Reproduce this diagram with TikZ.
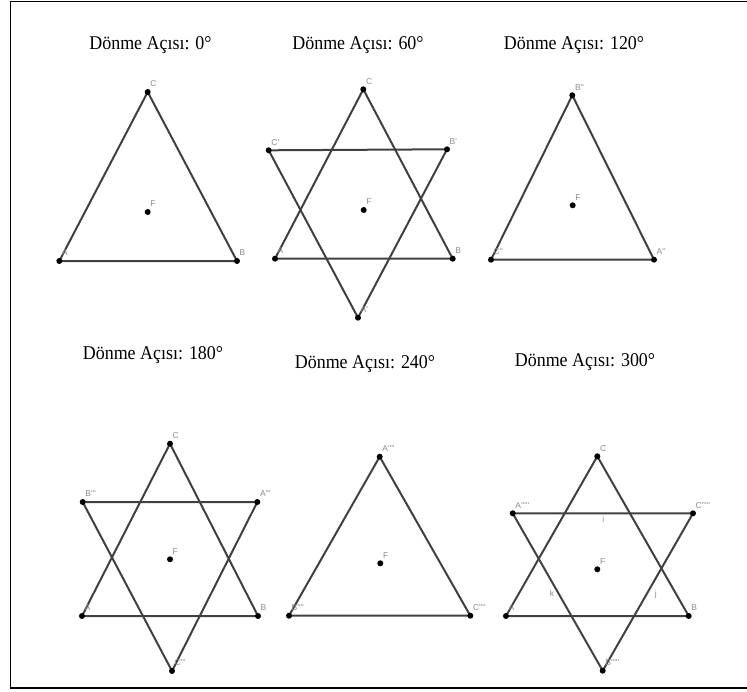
\documentclass[tikz,border=0pt]{standalone}
\usepackage{fontspec}
\setmainfont{Liberation Serif}
\newfontfamily\lblfont{Liberation Sans}
\usetikzlibrary{backgrounds}
\begin{document}
\begin{tikzpicture}[x=1pt,y=-1pt,
  dot/.style={circle,fill=black,draw=none,minimum size=6pt,inner sep=0pt},
  edge/.style={draw=black!75,line width=2pt},
  lbl/.style={text=black!45,font=\lblfont\fontsize{8.5}{9}\selectfont,inner sep=0pt,anchor=south west,xshift=2.5pt,yshift=5pt},
  seglbl/.style={text=black!45,font=\lblfont\fontsize{8.5}{9}\selectfont,inner sep=0pt},
  title/.style={font=\fontsize{19.5}{22}\selectfont,inner sep=0pt,xscale=0.92}]
\useasboundingbox (0,0) rectangle (747,691);
\draw[line width=1.8pt] (748,1.5) -- (10.5,1.5) -- (10.5,688) -- (748,688);

% titles
\node[title] (t1) at (150.5,45) {Dönme Açısı: 0°};
\node[title] (t2) at (358,45) {Dönme Açısı: 60°};
\node[title] (t3) at (574,45) {Dönme Açısı: 120°};
\node[title] (t4) at (153,355) {Dönme Açısı: 180°};
\node[title] (t5) at (365,364) {Dönme Açısı: 240°};
\node[title] (t6) at (585,362) {Dönme Açısı: 300°};

% panel 1
\node[dot] (C1) at (147.7,92) {};
\node[dot] (A1) at (59.3,261) {};
\node[dot] (B1) at (237,261) {};
\node[dot] (F1) at (147.7,212) {};
\node[lbl] (lC1) at (C1) {C};
\node[lbl] (lA1) at (A1) {A};
\node[lbl] (lB1) at (B1) {B};
\node[lbl] (lF1) at (F1) {F};

% panel 2
\node[dot] (C2) at (363.3,89.3) {};
\node[dot] (A2) at (275,258.7) {};
\node[dot] (B2) at (452.7,258.7) {};
\node[dot] (Cp2) at (268.7,150.3) {};
\node[dot] (Bp2) at (447,149.3) {};
\node[dot] (Ap2) at (358,317.7) {};
\node[dot] (F2) at (363.7,210) {};
\node[lbl] (lC2) at (C2) {C};
\node[lbl] (lA2) at (A2) {A};
\node[lbl] (lB2) at (B2) {B};
\node[lbl] (lCp2) at (Cp2) {C'};
\node[lbl] (lBp2) at (Bp2) {B'};
\node[lbl] (lAp2) at (Ap2) {A'};
\node[lbl] (lF2) at (F2) {F};

% panel 3
\node[dot] (B3) at (572.3,95.3) {};
\node[dot] (A3) at (654,259.7) {};
\node[dot] (C3) at (491,259.7) {};
\node[dot] (F3) at (572.7,205.3) {};
\node[lbl] (lB3) at (B3) {B''};
\node[lbl] (lA3) at (A3) {A''};
\node[lbl] (lC3) at (C3) {C''};
\node[lbl] (lF3) at (F3) {F};

% panel 4
\node[dot] (C4) at (170,443.7) {};
\node[dot] (A4) at (82,616) {};
\node[dot] (B4) at (258,616) {};
\node[dot] (Bp4) at (82.7,502) {};
\node[dot] (Ap4) at (257.3,502) {};
\node[dot] (Cp4) at (172,671) {};
\node[dot] (F4) at (170,559.3) {};
\node[lbl] (lC4) at (C4) {C};
\node[lbl] (lA4) at (A4) {A};
\node[lbl] (lB4) at (B4) {B};
\node[lbl] (lBp4) at (Bp4) {B'''};
\node[lbl] (lAp4) at (Ap4) {A'''};
\node[lbl] (lCp4) at (Cp4) {C'''};
\node[lbl] (lF4) at (F4) {F};

% panel 5
\node[dot] (A5) at (379.7,456.7) {};
\node[dot] (B5) at (289,615.7) {};
\node[dot] (C5) at (470.3,615.7) {};
\node[dot] (F5) at (380.3,563.3) {};
\node[lbl] (lA5) at (A5) {A''''};
\node[lbl] (lB5) at (B5) {B''''};
\node[lbl] (lC5) at (C5) {C''''};
\node[lbl] (lF5) at (F5) {F};

% panel 6
\node[dot] (C6) at (597.3,456.3) {};
\node[dot] (A6) at (506,616) {};
\node[dot] (B6) at (688.7,616) {};
\node[dot] (Ap6) at (512.7,513.3) {};
\node[dot] (Cp6) at (693,513.3) {};
\node[dot] (Bp6) at (602.7,670.7) {};
\node[dot] (F6) at (597.3,569.3) {};
\node[lbl] (lC6) at (C6) {C};
\node[lbl] (lA6) at (A6) {A};
\node[lbl] (lB6) at (B6) {B};
\node[lbl] (lAp6) at (Ap6) {A'''''};
\node[lbl] (lCp6) at (Cp6) {C'''''};
\node[lbl] (lBp6) at (Bp6) {B'''''};
\node[lbl] (lF6) at (F6) {F};
\node[seglbl] (li6) at (603.3,519.3) {i};
\node[seglbl] (lk6) at (552,593.3) {k};
\node[seglbl] (lj6) at (655.7,594.3) {j};

\begin{scope}[on background layer]
\draw[edge] (A1.center) -- (B1.center) -- (C1.center) -- cycle;
\draw[edge] (A2.center) -- (B2.center) -- (C2.center) -- cycle;
\draw[edge] (Ap2.center) -- (Bp2.center) -- (Cp2.center) -- cycle;
\draw[edge] (A3.center) -- (B3.center) -- (C3.center) -- cycle;
\draw[edge] (A4.center) -- (B4.center) -- (C4.center) -- cycle;
\draw[edge] (Ap4.center) -- (Bp4.center) -- (Cp4.center) -- cycle;
\draw[edge] (A5.center) -- (B5.center) -- (C5.center) -- cycle;
\draw[edge] (A6.center) -- (B6.center) -- (C6.center) -- cycle;
\draw[edge] (Ap6.center) -- (Bp6.center) -- (Cp6.center) -- cycle;
\end{scope}
\end{tikzpicture}
\end{document}
